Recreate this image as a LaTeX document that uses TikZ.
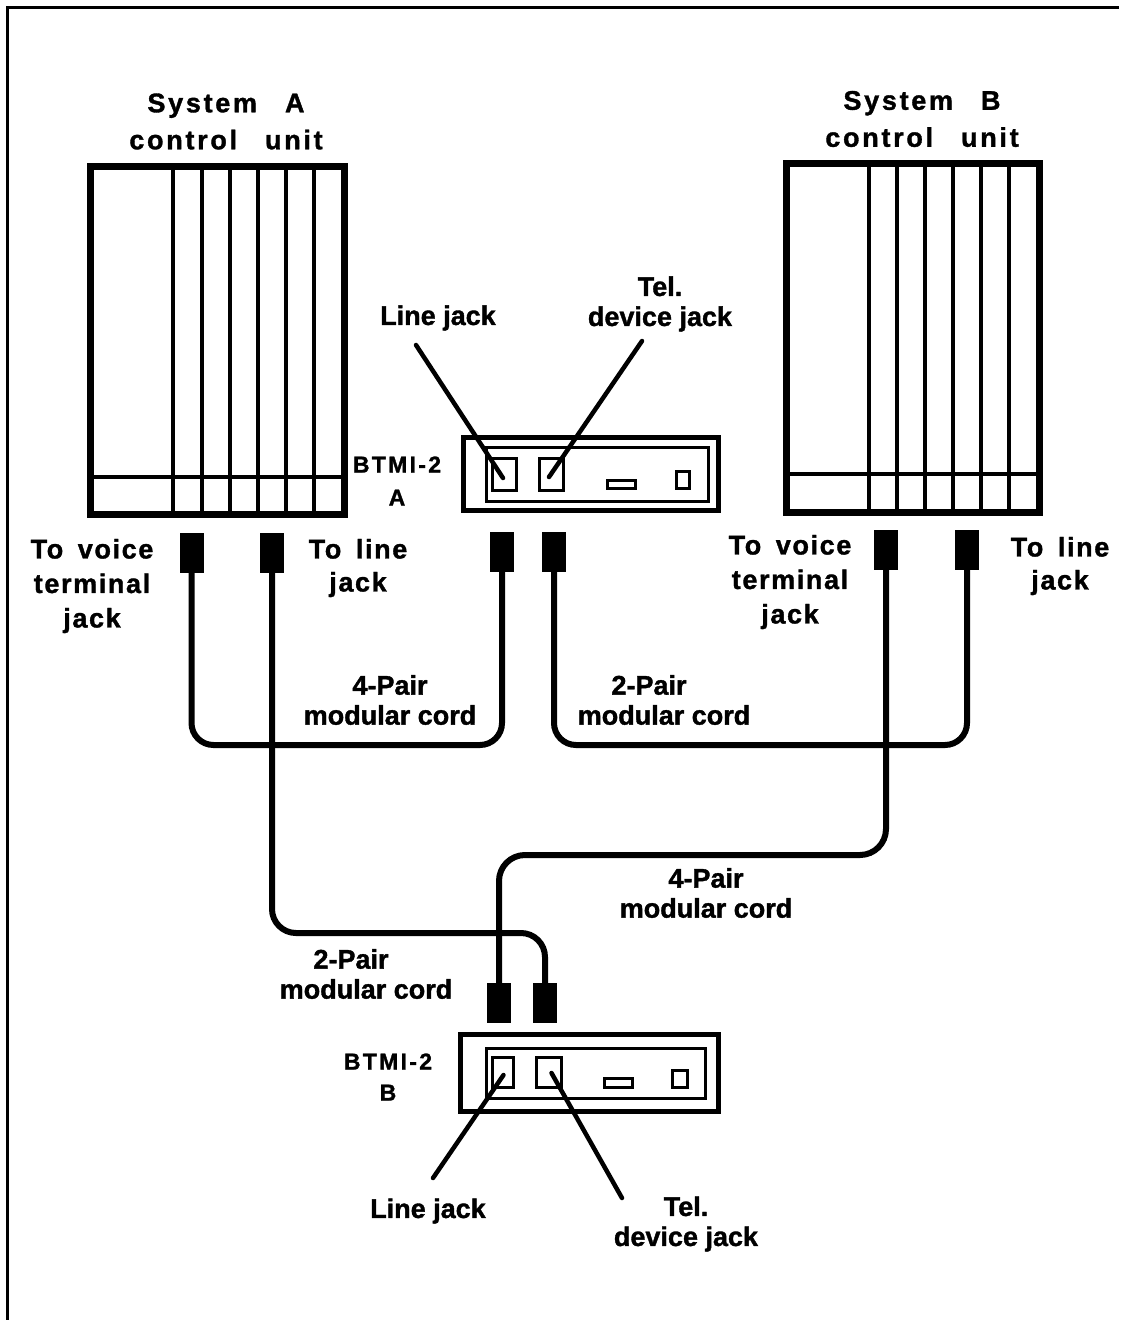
\documentclass[tikz,border=0pt]{standalone}
\usepackage{fontspec}
\usetikzlibrary{calc}
\setmainfont{Liberation Sans}
\newfontfamily\lblfont{Liberation Sans Bold}[FakeBold=1.3]
\newfontfamily\widefont{Liberation Sans Bold}[FakeBold=1.3,LetterSpace=10]
\newfontfamily\midfont{Liberation Sans Bold}[FakeBold=1.3,LetterSpace=6,WordSpace=1.6]
\begin{document}
\begin{tikzpicture}[x=1pt,y=-1pt,
  lbl/.style={font=\lblfont\fontsize{27}{30}\selectfont, align=center, inner sep=0pt},
  syslbl/.style={font=\widefont\fontsize{27}{37}\selectfont, align=center, inner sep=0pt},
  wlbl/.style={font=\midfont\fontsize{27}{34.5}\selectfont, align=center, inner sep=0pt},
  unitbox/.style={draw, rectangle, line width=7pt, inner sep=0pt},
  divider/.style={line width=4pt},
  btmibox/.style={draw, rectangle, line width=5pt, inner sep=0pt},
  inbox/.style={draw, rectangle, line width=3pt, inner sep=0pt},
  plug/.style={fill=black, draw=none, rectangle, inner sep=0pt, minimum width=24pt, minimum height=40pt},
  cord/.style={line width=6pt, rounded corners=22pt},
  leader/.style={line width=4.5pt, line cap=round},
  frame/.style={line width=3pt}]
\useasboundingbox (0,0) rectangle (1123,1320);
\draw[frame] (7,1320) -- (7,7) -- (1119,7);

% System A control unit
\foreach \x in {173,202,230,258,286,314} \draw[divider] (\x,166) -- (\x,514);
\draw[divider] (90,477) -- (344,477);
\node[unitbox, minimum width=254pt, minimum height=348pt] (sysA) at (217,340) {};
\node[syslbl] (sysAlbl) at (226,121.5) {System\hspace{28pt}A\\control\hspace{28pt}unit};

% System B control unit
\foreach \x in {869,897,925,953,981,1009} \draw[divider] (\x,163) -- (\x,512);
\draw[divider] (786,474) -- (1039,474);
\node[unitbox, minimum width=253pt, minimum height=349pt] (sysB) at (912.5,337.5) {};
\node[syslbl] (sysBlbl) at (922,119) {System\hspace{28pt}B\\control\hspace{28pt}unit};

% BTMI-2 A
\node[btmibox, minimum width=255pt, minimum height=73pt] (btA) at (591,473.5) {};
\node[inbox, minimum width=222pt, minimum height=54pt] (btAin) at (597,474) {};
\node[inbox, minimum width=24pt, minimum height=32pt] (jA1) at (504,474) {};
\node[inbox, minimum width=24pt, minimum height=32pt] (jA2) at (551,474) {};
\node[inbox, minimum width=28pt, minimum height=8pt] (slA) at (621,484) {};
\node[inbox, minimum width=13pt, minimum height=17pt] (ledA) at (682.5,479.5) {};
\node[syslbl, font=\widefont\fontsize{23}{33}\selectfont] (btAlbl) at (397,481) {BTMI-2\\A};

% BTMI-2 B
\node[btmibox, minimum width=258pt, minimum height=77pt] (btB) at (589,1072.5) {};
\node[inbox, minimum width=219pt, minimum height=50pt] (btBin) at (595.5,1073) {};
\node[inbox, minimum width=21pt, minimum height=30pt] (jB1) at (502.5,1072) {};
\node[inbox, minimum width=25pt, minimum height=30pt] (jB2) at (548.5,1072) {};
\node[inbox, minimum width=28pt, minimum height=9pt] (slB) at (618,1082.5) {};
\node[inbox, minimum width=15pt, minimum height=17pt] (ledB) at (679.5,1078.5) {};
\node[syslbl, font=\widefont\fontsize{23}{31}\selectfont] (btBlbl) at (388,1077) {BTMI-2\\B};

% plugs
\node[plug] (pAv) at (191.5,553) {};
\node[plug] (pAl) at (272,553) {};
\node[plug] (pBtA1) at (502,551.5) {};
\node[plug] (pBtA2) at (554,551.5) {};
\node[plug] (pBv) at (886,550) {};
\node[plug] (pBl) at (967,550) {};
\node[plug] (pBtB1) at (499,1003) {};
\node[plug] (pBtB2) at (545,1003) {};

% cords
\draw[cord] (pAv.south) -- (pAv.south |- 0,745) -- (pBtA1.south |- 0,745) -- (pBtA1.south);
\draw[cord] (pBtA2.south) -- (pBtA2.south |- 0,745) -- (pBl.south |- 0,745) -- (pBl.south);
\draw[cord, rounded corners=24pt] (pAl.south) -- (pAl.south |- 0,933) -- (pBtB2.north |- 0,933) -- (pBtB2.north);
\draw[cord, rounded corners=26pt] (pBv.south) -- (pBv.south |- 0,855) -- (pBtB1.north |- 0,855) -- (pBtB1.north);

% labels of cords and plugs
\node[wlbl] (tvA) at (92,586) {To voice\\terminal\\jack};
\node[wlbl, font=\midfont\fontsize{27}{33}\selectfont] (tlA) at (358,568) {To line\\jack};
\node[wlbl] (tvB) at (790,582) {To voice\\terminal\\jack};
\node[wlbl, font=\midfont\fontsize{27}{33}\selectfont] (tlB) at (1060,566) {To line\\jack};
\node[lbl] (c4A) at (390,700) {4-Pair\\modular cord};
\node[lbl] (c2A) at (664,700) {2-Pair\hspace*{30pt}\\modular cord};
\node[lbl] (c4B) at (706,893) {4-Pair\\modular cord};
\node[lbl] (c2B) at (366,974) {2-Pair\hspace*{30pt}\\modular cord};

% jack labels and leaders
\node[lbl] (ljA) at (438,318) {Line jack};
\node[lbl] (tdA) at (660,304) {Tel.\\device jack};
\coordinate (ljAs) at (416,345);
\coordinate (tdAs) at (642,341);
\draw[leader] (ljAs) -- ($(jA1.center)+(-1,4)$);
\draw[leader] (tdAs) -- ($(jA2.center)+(-2,3)$);
\node[lbl] (ljB) at (428,1211) {Line jack};
\node[lbl] (tdB) at (686,1224) {Tel.\\device jack};
\coordinate (ljBs) at (433,1178);
\coordinate (tdBs) at (622,1198);
\draw[leader] (ljBs) -- ($(jB1.center)+(1,3)$);
\draw[leader] (tdBs) -- ($(jB2.center)+(3,1)$);
\end{tikzpicture}
\end{document}
